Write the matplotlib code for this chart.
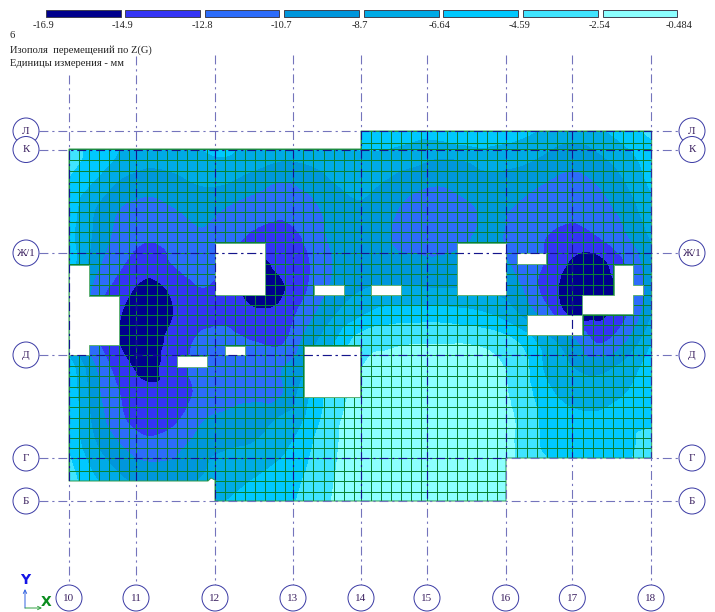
import numpy as np
import matplotlib
matplotlib.use("Agg")
import matplotlib.pyplot as plt
import matplotlib.tri as mtri
from matplotlib.patches import Polygon, Rectangle, Circle
from matplotlib.colors import ListedColormap, BoundaryNorm

# ---- legend
level_values = [-16.9, -14.9, -12.8, -10.7, -8.7, -6.64, -4.59, -2.54, -0.484]
level_labels = ["-16.9", "-14.9", "-12.8", "-10.7", "-8.7", "-6.64", "-4.59", "-2.54", "-0.484"]
band_colors = ["#00008C", "#3434F4", "#2C6CFA", "#0096DC", "#00AAE6", "#00C8FF", "#40E4FF", "#8CFFFF"]
legend_left = [45.7, 125.3, 205, 284.3, 364, 443.3, 523.3, 602.7]
legend_right = [120.7, 200, 279.3, 359, 438.7, 518.3, 597.7, 677.3]
label_x = [43, 122, 202, 281, 360, 440, 520, 599, 679]

# ---- displacement field (mm, shown negated)
field_x = [69, 95.5, 122, 148.5, 175, 201.5, 228, 254.5, 281, 307.5, 334, 360.5,
           387, 413.5, 440, 466.5, 493, 519.5, 546, 572.5, 599, 625.5, 652]
field_y = [131, 157, 184, 210, 237, 263, 290, 316, 342, 369, 395, 422, 448, 475, 501]
r00 = [4.0, 5.5, 6.6, 7.2, 7.2, 6.4, 6.2, 6.8, 7.2, 7.0, 6.6, 5.5, 5.5, 5.8, 5.5, 4.6, 5.5, 6.0, 7.0, 7.6, 7.0, 5.5, 4.0]
r01 = [3.8, 5.4, 7.0, 8.0, 7.8, 6.9, 6.7, 7.6, 8.4, 8.2, 7.4, 7.0, 7.2, 7.8, 8.6, 8.3, 7.6, 8.0, 9.0, 10.0, 9.0, 7.4, 5.5]
r02 = [5.0, 7.0, 9.2, 10.0, 9.4, 8.6, 8.8, 10.0, 10.9, 10.2, 8.8, 8.2, 9.0, 10.2, 10.6, 10.0, 9.4, 10.0, 10.8, 11.2, 10.6, 8.8, 6.2]
r03 = [5.6, 8.8, 10.9, 11.4, 10.8, 10.0, 11.0, 11.8, 12.2, 11.6, 9.8, 9.0, 10.2, 11.4, 11.6, 11.0, 10.4, 11.0, 11.6, 12.2, 11.4, 10.0, 7.2]
r04 = [6.0, 9.2, 11.6, 12.6, 12.0, 11.0, 12.0, 13.2, 13.9, 12.4, 10.2, 9.6, 10.6, 11.4, 11.2, 10.8, 10.4, 11.6, 12.8, 13.6, 12.8, 11.0, 8.4]
r05 = [5.5, 10.0, 12.6, 13.8, 12.6, 11.4, 13.2, 15.4, 14.3, 13.0, 10.6, 9.6, 10.0, 10.2, 10.4, 10.2, 10.3, 11.2, 13.0, 15.2, 15.6, 12.8, 9.2]
r06 = [6.0, 11.5, 14.0, 15.8, 14.4, 12.9, 14.0, 16.0, 15.2, 12.8, 10.2, 8.8, 8.4, 8.4, 8.6, 8.6, 9.0, 10.4, 13.6, 16.0, 16.2, 14.0, 9.6]
r07 = [7.0, 12.0, 15.0, 16.2, 14.8, 13.3, 13.2, 14.4, 14.2, 11.4, 8.8, 6.8, 5.6, 5.4, 5.4, 5.8, 6.6, 8.6, 11.6, 15.3, 15.4, 13.0, 8.6]
r08 = [8.0, 12.3, 15.2, 16.0, 14.0, 12.4, 12.2, 12.8, 13.1, 9.8, 6.8, 3.6, 3.0, 2.7, 2.7, 2.7, 3.2, 4.8, 7.8, 10.2, 13.0, 10.8, 6.8]
r09 = [5.4, 10.6, 14.0, 15.4, 13.6, 12.0, 11.4, 11.2, 10.8, 8.4, 5.0, 2.6, 2.0, 1.8, 1.8, 1.9, 2.2, 3.4, 7.0, 8.6, 9.2, 7.8, 5.6]
r10 = [5.0, 10.0, 13.0, 14.4, 14.0, 12.2, 11.2, 11.0, 10.8, 7.0, 3.6, 2.0, 1.6, 1.4, 1.4, 1.6, 2.0, 3.2, 6.0, 7.4, 7.8, 6.6, 5.2]
r11 = [4.8, 9.4, 12.4, 14.0, 13.0, 10.8, 10.2, 9.6, 8.2, 6.2, 3.0, 1.8, 1.4, 1.2, 1.2, 1.3, 1.8, 2.8, 5.2, 6.0, 6.0, 5.2, 4.8]
r12 = [4.8, 8.4, 10.6, 11.8, 11.2, 9.6, 8.8, 8.4, 7.2, 5.0, 2.8, 1.6, 1.2, 1.0, 1.0, 1.2, 1.8, 2.8, 5.0, 5.4, 5.4, 5.0, 3.8]
r13 = [3.8, 6.8, 8.8, 9.8, 10.0, 8.8, 7.4, 6.8, 5.8, 4.4, 2.6, 1.6, 1.2, 1.0, 1.0, 1.2, 1.8, 2.8, 3.8, 5.0, 5.0, 4.6, 3.4]
r14 = [3.0, 5.0, 7.0, 8.0, 8.0, 7.5, 6.6, 5.6, 5.2, 4.0, 2.4, 1.6, 1.2, 1.0, 1.0, 1.2, 1.8, 2.8, 3.8, 5.0, 5.0, 4.6, 3.4]
field_rows = [r00, r01, r02, r03, r04, r05, r06, r07, r08, r09, r10, r11, r12, r13, r14]

# ---- finite element mesh
mesh_x = [69.3, 79.3, 89.3, 99.3, 109.3, 119.3, 129.3, 136, 146.7, 156.7, 166.7, 176.7, 186.7,
          196.7, 206.7, 215, 225, 235, 245, 255, 265, 275, 285, 293.3, 303.3, 313.3, 324, 334,
          344, 354, 360.7, 370.7, 380.7, 390.7, 400.7, 410.7, 420.7, 427, 437.3, 447.3, 457.3,
          467.3, 477.3, 487.3, 497.3, 505.7, 516.7, 526.7, 536.7, 546.7, 556.7, 566.7, 572.3,
          583.3, 593.3, 603.3, 613.3, 623.3, 633.3, 643.3, 651.7]
mesh_y = [131, 143, 149, 160, 171, 181.7, 191.7, 201.7, 211.7, 222, 232, 242, 252.5, 264, 274,
          285, 295, 305, 315, 325, 335, 345, 355, 366, 376, 387, 397, 407, 418, 428, 438, 448,
          458, 471, 481, 491.5, 501]
outline_x = [69, 361, 361, 651.7, 651.7, 506, 506, 215, 215, 211, 208, 69]
outline_y = [149, 149, 131, 131, 458, 458, 501, 501, 480, 478, 481, 481]

# ---- openings
hole_x0 = [215.3, 314.3, 225, 176.7, 303.7, 370.7, 457.3, 516.7, 526.7]
hole_x1 = [265, 343.7, 245, 206.7, 360, 400.7, 505.7, 546, 582.3]
hole_y0 = [242.7, 285, 345.7, 355.7, 345.7, 285, 242.7, 253.3, 315]
hole_y1 = [295, 295, 355, 366.7, 397.3, 295, 295, 264, 335]
left_open_x = [69.3, 89.3, 89.3, 119.3, 119.3, 89.3, 89.3, 69.3]
left_open_y = [265, 265, 295.7, 295.7, 345, 345, 355, 355]
right_open_x = [614, 632.7, 632.7, 643.3, 643.3, 632.7, 632.7, 582.3, 582.3, 614]
right_open_y = [265, 265, 285, 285, 295, 295, 314.3, 314.3, 295, 295]

# ---- grid axes
col_labels = ["10", "11", "12", "13", "14", "15", "16", "17", "18"]
col_x = [69, 136, 215, 293, 361, 427, 505.7, 572.3, 651]
col_top = [75, 56, 55, 55, 55, 55, 55, 55, 55]
row_labels = ["Л", "К", "Ж/1", "Д", "Г", "Б"]
row_y = [131, 149.5, 253, 355, 458, 501]

titles = ["6", "Изополя  перемещений по Z(G)", "Единицы измерения - мм"]
title_y = [36, 50, 64]

plt.rcParams['font.family'] = ['Liberation Serif', 'DejaVu Serif']
fig = plt.figure(figsize=(7.15, 6.12), dpi=100)
ax = fig.add_axes([0, 0, 1, 1])
ax.set_xlim(0, 715)
ax.set_ylim(612, 0)
ax.axis('off')

cmap = ListedColormap(band_colors)
norm = BoundaryNorm(level_values, cmap.N)
domain = Polygon(np.column_stack([outline_x, outline_y]), closed=True,
                 facecolor='none', edgecolor='#2E9A4E', lw=0.7, zorder=3, transform=ax.transData)
ax.add_patch(domain)

# Smooth isolines through matplotlib's own triangulation refiner
X, Y = np.meshgrid(field_x, field_y)
Z = -np.array(field_rows)
tri = mtri.Triangulation(X.ravel(), Y.ravel())
interp = mtri.CubicTriInterpolator(tri, Z.ravel(), kind='geom')
tri_fine, z_fine = mtri.UniformTriRefiner(tri).refine_field(Z.ravel(), triinterpolator=interp, subdiv=3)
cs = ax.tricontourf(tri_fine, np.clip(z_fine, -16.89, -0.49), levels=level_values, cmap=cmap, norm=norm, zorder=1)
cs.set_clip_path(domain)

vl = ax.vlines(mesh_x, 125, 505, colors='#0A8232', lw=0.72, zorder=2)
hl = ax.hlines(mesh_y, 65, 655, colors='#0A8232', lw=0.72, zorder=2)
vl.set_clip_path(domain)
hl.set_clip_path(domain)

for x0, x1, y0, y1 in zip(hole_x0, hole_x1, hole_y0, hole_y1):
    ax.add_patch(Rectangle((x0, y0), x1 - x0, y1 - y0, facecolor='white', edgecolor='#5AAE70', lw=0.6, zorder=4))
for px, py in ((left_open_x, left_open_y), (right_open_x, right_open_y)):
    ax.add_patch(Polygon(np.column_stack([px, py]), closed=True, facecolor='white',
                         edgecolor='#5AAE70', lw=0.6, zorder=4))

dash = (0, (8, 3.5, 2, 3.5))
axis_light = '#7474BC'
axis_dark = '#14148C'
for x, top, lab in zip(col_x, col_top, col_labels):
    ax.plot([x, x], [top, 585], color=axis_light, lw=0.8, ls=dash, zorder=5)
    l, = ax.plot([x, x], [top, 585], color=axis_dark, lw=0.8, ls=dash, zorder=5.1)
    l.set_clip_path(domain)
    ax.add_patch(Circle((x, 598), 13, facecolor='white', edgecolor='#3E3EA6', lw=0.72, zorder=6))
    ax.text(x, 598.5, lab, ha='center', va='center', fontsize=8, color='#3A2060', zorder=7)
for y, lab in zip(row_y, row_labels):
    ax.plot([39, 679], [y, y], color=axis_light, lw=0.8, ls=dash, zorder=5)
    l, = ax.plot([39, 679], [y, y], color=axis_dark, lw=0.8, ls=dash, zorder=5.1)
    l.set_clip_path(domain)
    for cx in (26, 692):
        ax.add_patch(Circle((cx, y), 13, facecolor='white', edgecolor='#3E3EA6', lw=0.72, zorder=6))
        ax.text(cx, y + 0.5, lab, ha='center', va='center', fontsize=8, color='#3A2060', zorder=7)

for x0, x1, c in zip(legend_left, legend_right, band_colors):
    ax.add_patch(Rectangle((x0, 10), x1 - x0, 7.3, facecolor=c, edgecolor='#404050', lw=0.7, zorder=3))
for x, lab in zip(label_x, level_labels):
    ax.text(x, 25, lab, ha='center', va='center', fontsize=7.5, color='#222222')
for y, t in zip(title_y, titles):
    ax.text(9.5, y, t, ha='left', va='center', fontsize=7.6, color='#222222')

# XY triad
ax.annotate('', xy=(25, 589), xytext=(25, 608), zorder=8,
            arrowprops=dict(arrowstyle='->', color='#3060E0', lw=0.7, mutation_scale=6, shrinkA=0, shrinkB=0))
ax.annotate('', xy=(42, 608), xytext=(25, 608), zorder=8,
            arrowprops=dict(arrowstyle='->', color='#30A040', lw=0.7, mutation_scale=6, shrinkA=0, shrinkB=0))
ax.text(25, 580, 'Y', ha='center', va='center', fontsize=10, fontweight='bold', color='#1414E6',
        family=['DejaVu Sans'])
ax.text(46.5, 602, 'X', ha='center', va='center', fontsize=10, fontweight='bold', color='#0A8C1E',
        family=['DejaVu Sans'])

fig.savefig('out.png', dpi=100, facecolor='white')
